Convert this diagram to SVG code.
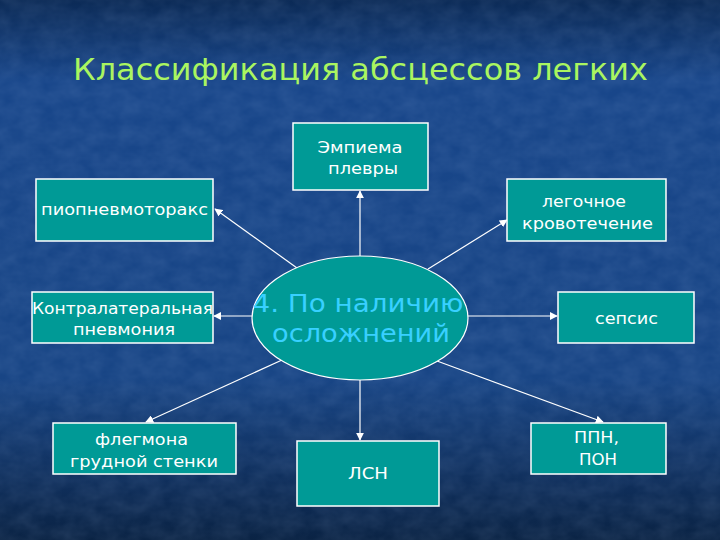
<svg xmlns="http://www.w3.org/2000/svg" width="720" height="540" viewBox="0 0 720 540">
  <defs>
    <linearGradient id="bg" x1="0" y1="0" x2="0" y2="1">
      <stop offset="0" stop-color="#0b2a56"/>
      <stop offset="0.15" stop-color="#18468a"/>
      <stop offset="0.7" stop-color="#184585"/>
      <stop offset="0.9" stop-color="#0f2e5a"/>
      <stop offset="1" stop-color="#0a2344"/>
    </linearGradient>
    <filter id="tex" x="0" y="0" width="100%" height="100%">
      <feTurbulence type="fractalNoise" baseFrequency="0.05 0.07" numOctaves="3" seed="7"/>
      <feColorMatrix type="matrix" values="0 0 0 0 0.55  0 0 0 0 0.7  0 0 0 0 1  0 0 0 0.14 -0.03"/>
    </filter>
    <marker id="arr" viewBox="0 0 10 10" refX="9" refY="5" markerWidth="8" markerHeight="8" markerUnits="userSpaceOnUse" orient="auto">
      <path d="M0,0 L10,5 L0,10 Z" fill="#ffffff"/>
    </marker>
    <style>
      .box { fill: #009a96; stroke: #ffffff; stroke-width: 1.5; }
      .lbl { fill: #ffffff; font-family: "DejaVu Sans", "Noto Sans", sans-serif; font-size: 15px; text-anchor: middle; }
      .conn { stroke: #ffffff; stroke-width: 1.2; fill: none; marker-end: url(#arr); }
      .title { fill: #aaf560; font-family: "DejaVu Sans", "Noto Sans", sans-serif; font-size: 31px; }
      .center { fill: #38d0ff; font-family: "DejaVu Sans", "Noto Sans", sans-serif; font-size: 24px; text-anchor: middle; }
    </style>
  </defs>

  <rect x="0" y="0" width="720" height="540" fill="url(#bg)"/>
  <rect x="0" y="0" width="720" height="540" filter="url(#tex)"/>

  <text class="title" x="73" y="80" textLength="575" lengthAdjust="spacingAndGlyphs">Классификация абсцессов легких</text>

  <g id="connectors">
    <line class="conn" x1="360" y1="256" x2="360" y2="191"/>
    <line class="conn" x1="297" y1="268" x2="215" y2="209"/>
    <line class="conn" x1="428" y1="269" x2="507" y2="220"/>
    <line class="conn" x1="252" y1="316" x2="214" y2="316"/>
    <line class="conn" x1="468" y1="316" x2="557" y2="316"/>
    <line class="conn" x1="282" y1="360" x2="146" y2="422"/>
    <line class="conn" x1="360" y1="380" x2="360" y2="440"/>
    <line class="conn" x1="437" y1="361" x2="603" y2="422"/>
  </g>

  <g id="center">
    <ellipse cx="360" cy="318" rx="108" ry="62" fill="#009a96" stroke="#ffffff" stroke-width="1.2"/>
    <text class="center" x="358" y="312" textLength="211" lengthAdjust="spacingAndGlyphs">4. По наличию</text>
    <text class="center" x="361" y="342" textLength="178" lengthAdjust="spacingAndGlyphs">осложнений</text>
  </g>

  <g id="empiema">
    <rect class="box" x="293" y="123" width="135" height="67"/>
    <text class="lbl" x="360" y="153" textLength="85" lengthAdjust="spacingAndGlyphs">Эмпиема</text>
    <text class="lbl" x="363" y="174" textLength="70" lengthAdjust="spacingAndGlyphs">плевры</text>
  </g>

  <g id="pyopneumothorax">
    <rect class="box" x="36" y="179" width="177" height="62"/>
    <text class="lbl" x="124.5" y="215" textLength="167" lengthAdjust="spacingAndGlyphs">пиопневмоторакс</text>
  </g>

  <g id="bleeding">
    <rect class="box" x="507" y="179" width="159" height="62"/>
    <text class="lbl" x="584" y="207" textLength="84" lengthAdjust="spacingAndGlyphs">легочное</text>
    <text class="lbl" x="587.5" y="229" textLength="131" lengthAdjust="spacingAndGlyphs">кровотечение</text>
  </g>

  <g id="pneumonia">
    <rect class="box" x="32" y="292" width="181" height="51"/>
    <text class="lbl" x="122.5" y="314" textLength="181" lengthAdjust="spacingAndGlyphs">Контралатеральная</text>
    <text class="lbl" x="124" y="335" textLength="102" lengthAdjust="spacingAndGlyphs">пневмония</text>
  </g>

  <g id="sepsis">
    <rect class="box" x="558" y="292" width="136" height="51"/>
    <text class="lbl" x="626.5" y="324" textLength="63" lengthAdjust="spacingAndGlyphs">сепсис</text>
  </g>

  <g id="phlegmon">
    <rect class="box" x="53" y="423" width="183" height="51"/>
    <text class="lbl" x="141.5" y="445" textLength="93" lengthAdjust="spacingAndGlyphs">флегмона</text>
    <text class="lbl" x="144" y="467" textLength="148" lengthAdjust="spacingAndGlyphs">грудной стенки</text>
  </g>

  <g id="lsn">
    <rect class="box" x="297" y="441" width="142" height="65"/>
    <text class="lbl" x="368" y="479" textLength="40" lengthAdjust="spacingAndGlyphs">ЛСН</text>
  </g>

  <g id="ppn">
    <rect class="box" x="531" y="423" width="135" height="51"/>
    <text class="lbl" x="596.5" y="443" textLength="45" lengthAdjust="spacingAndGlyphs">ППН,</text>
    <text class="lbl" x="598" y="465" textLength="38" lengthAdjust="spacingAndGlyphs">ПОН</text>
  </g>
</svg>
